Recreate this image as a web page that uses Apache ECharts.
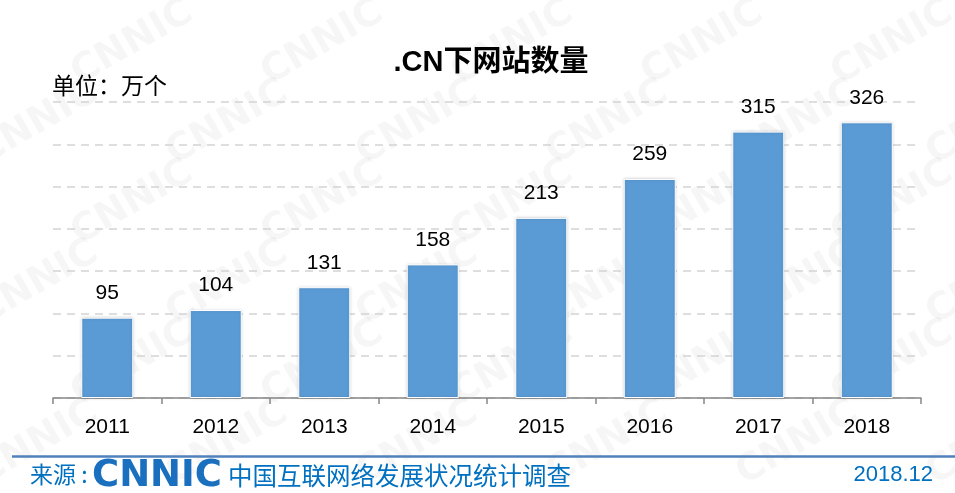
<!DOCTYPE html>
<html>
<head>
<meta charset="utf-8">
<script src="https://cdn.jsdelivr.net/npm/echarts@6/dist/echarts.min.js"></script>
<style>
  html, body { margin: 0; padding: 0; background: #fff; }
  #chart { width: 955px; height: 493px; }
</style>
</head>
<body>
<div id="chart"></div>
<script>
const years = ['2011', '2012', '2013', '2014', '2015', '2016', '2017', '2018']
const siteCounts = [95, 104, 131, 158, 213, 259, 315, 326]
const yMin = 0
const yMax = 350
const yStep = 50

const fontCN = '"Liberation Sans", Arial, "Noto Sans CJK SC", sans-serif'

// faint CNNIC watermark pattern behind the chart
const watermark = []
for (let row = 0; row < 7; row++) {
  for (let col = 0; col < 6; col++) {
    watermark.push({
      type: 'text',
      x: col * 190 + (row % 2) * 95 - 30,
      y: row * 80 - 20,
      rotation: Math.PI / 6,
      z: -10,
      silent: true,
      style: {
        text: 'CNNIC',
        fill: 'rgba(0,0,0,0.035)',
        font: 'bold 38px "DejaVu Sans", sans-serif'
      }
    })
  }
}

const chart = echarts.init(document.getElementById('chart'))
chart.setOption({
  backgroundColor: '#fff',
  animation: false,
  title: {
    text: '.CN下网站数量',
    left: 486,
    textAlign: 'center',
    top: 43,
    textStyle: {
      fontFamily: fontCN,
      fontSize: 29,
      fontWeight: 'bold',
      color: '#000'
    }
  },
  grid: {
    left: 53,
    right: 34,
    top: 102,
    bottom: 95
  },
  xAxis: {
    type: 'category',
    data: years,
    axisLine: { lineStyle: { color: '#868686', width: 1.5 } },
    axisTick: { show: true, length: 6, lineStyle: { color: '#868686', width: 1.5 } },
    axisLabel: {
      color: '#000',
      fontSize: 21,
      fontFamily: fontCN,
      margin: 19
    }
  },
  yAxis: {
    type: 'value',
    min: yMin,
    max: yMax,
    interval: yStep,
    axisLabel: { show: false },
    axisLine: { show: false },
    axisTick: { show: false },
    splitLine: {
      lineStyle: { color: '#D4D4D4', type: [8, 6], width: 1.5 }
    }
  },
  series: [{
    type: 'bar',
    data: siteCounts,
    barWidth: 52,
    itemStyle: {
      color: '#5B9BD5',
      borderColor: '#fff',
      borderWidth: 1,
      shadowColor: 'rgba(0,0,0,0.18)',
      shadowBlur: 3
    },
    label: {
      show: true,
      position: 'top',
      distance: 14,
      color: '#000',
      fontSize: 21,
      fontFamily: fontCN
    }
  }],
  graphic: [
    ...watermark,
    {
      type: 'text',
      left: 52,
      top: 74,
      style: {
        text: '单位：万个',
        fill: '#000',
        font: '23px "Noto Sans CJK SC", sans-serif'
      }
    },
    {
      type: 'line',
      shape: { x1: 12, y1: 456.5, x2: 955, y2: 456.5 },
      style: { stroke: '#4F81BD', lineWidth: 2.5 }
    },
    {
      type: 'text',
      left: 30,
      top: 463,
      style: {
        text: '来源 :',
        fill: '#0070C0',
        font: '23px "Noto Sans CJK SC", sans-serif'
      }
    },
    {
      type: 'text',
      left: 92,
      top: 458,
      style: {
        text: 'CNNIC',
        fill: '#1A6FBF',
        font: 'bold 37px "DejaVu Sans", sans-serif'
      }
    },
    {
      type: 'text',
      left: 228,
      top: 463,
      style: {
        text: '中国互联网络发展状况统计调查',
        fill: '#0070C0',
        font: '24.5px "Noto Sans CJK SC", sans-serif'
      }
    },
    {
      type: 'text',
      right: 22,
      top: 464,
      style: {
        text: '2018.12',
        fill: '#0070C0',
        font: '22px "Liberation Sans", Arial, sans-serif'
      }
    }
  ]
})
</script>
</body>
</html>
